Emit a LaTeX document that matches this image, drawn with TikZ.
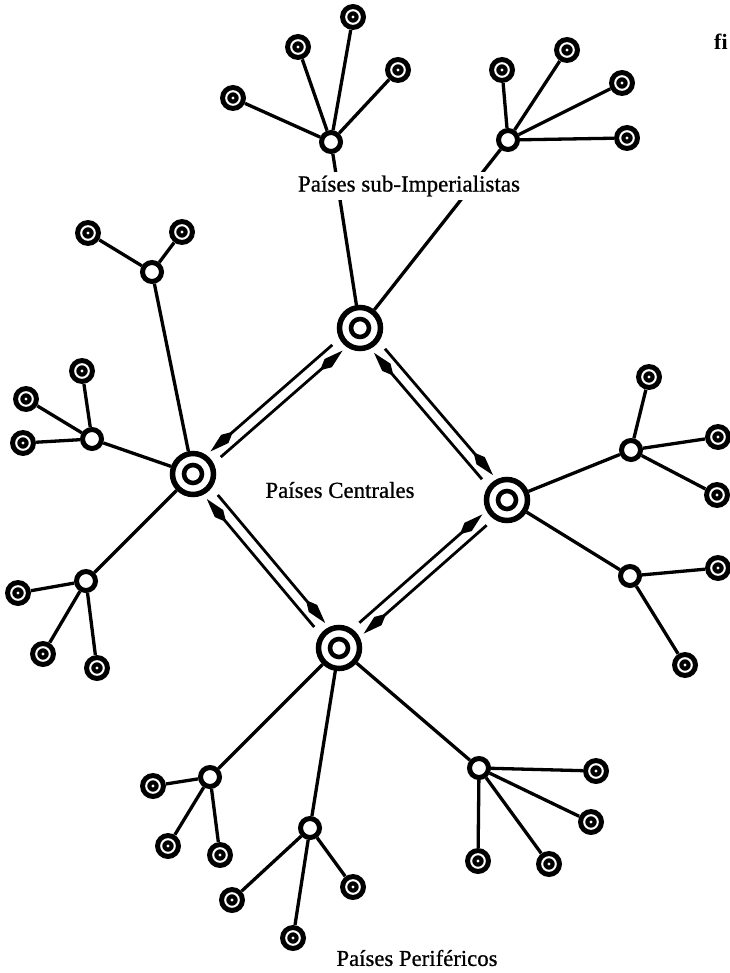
\documentclass[tikz,border=0pt]{standalone}
\usepackage{fontspec}
\setmainfont{Liberation Serif}
\newfontfamily\labfont[FakeBold=0.8]{Liberation Serif}
\usetikzlibrary{calc,arrows.meta}
\begin{document}
\begin{tikzpicture}[x=1pt,y=-1pt,
  hub/.style={circle, draw, line width=5.5pt, minimum size=41pt, inner sep=0pt, fill=white,
    path picture={\draw[line width=4.6pt] (path picture bounding box.center) circle (9pt);}},
  sub/.style={circle, draw, line width=5pt, minimum size=19pt, inner sep=0pt, fill=white,
    path picture={\fill (path picture bounding box.center) circle (4.8pt);
                  \fill[white] (path picture bounding box.center) circle (1.5pt);}},
  leaf/.style={circle, fill=black, minimum size=26pt, inner sep=0pt,
    path picture={\draw[white,line width=2pt] (path picture bounding box.center) circle (6.8pt);
                  \fill[white] (path picture bounding box.center) circle (1.7pt);}},
  ln/.style={line width=3.3pt},
  arr/.style={line width=2.8pt, -{Kite[length=30pt,width=11pt,inset=11pt]}},
  lab/.style={fill=white, inner sep=4pt, font=\labfont}
]
\useasboundingbox (0,0) rectangle (729,973);

% hubs
\node[hub] (T) at (360,328) {};
\node[hub] (L) at (193,474) {};
\node[hub] (R) at (507,500) {};
\node[hub] (B) at (339,648) {};

% sub hubs
\node[sub] (STL) at (331,142) {};
\node[sub] (STR) at (508,140) {};
\node[sub] (SL1) at (152,272) {};
\node[sub] (SL2) at (92,439) {};
\node[sub] (SL3) at (86,581) {};
\node[sub] (SR1) at (631,450) {};
\node[sub] (SR2) at (630,576) {};
\node[sub] (SB1) at (210,777) {};
\node[sub] (SB2) at (310,828) {};
\node[sub] (SB3) at (479,768) {};

% leaves
\node[leaf] (a1) at (233,98) {};
\node[leaf] (a2) at (298,47) {};
\node[leaf] (a3) at (353,17) {};
\node[leaf] (a4) at (398,70) {};
\node[leaf] (b1) at (502,70) {};
\node[leaf] (b2) at (567,50) {};
\node[leaf] (b3) at (622,83) {};
\node[leaf] (b4) at (627,138) {};
\node[leaf] (c1) at (88,233) {};
\node[leaf] (c2) at (182,232) {};
\node[leaf] (d1) at (82,371) {};
\node[leaf] (d2) at (26,399) {};
\node[leaf] (d3) at (23,443) {};
\node[leaf] (e1) at (18,593) {};
\node[leaf] (e2) at (43,654) {};
\node[leaf] (e3) at (97,668) {};
\node[leaf] (f1) at (649,377) {};
\node[leaf] (f2) at (718,437) {};
\node[leaf] (f3) at (717,495) {};
\node[leaf] (g1) at (718,568) {};
\node[leaf] (g2) at (685,665) {};
\node[leaf] (h1) at (153,786) {};
\node[leaf] (h2) at (168,846) {};
\node[leaf] (h3) at (220,855) {};
\node[leaf] (i1) at (232,900) {};
\node[leaf] (i2) at (293,938) {};
\node[leaf] (i3) at (353,887) {};
\node[leaf] (j1) at (596,771) {};
\node[leaf] (j2) at (591,822) {};
\node[leaf] (j3) at (549,864) {};
\node[leaf] (j4) at (478,861) {};

% hub to sub-hub
\draw[ln] (T) -- (STL);
\draw[ln] (T) -- (STR);
\draw[ln] (L) -- (SL1);
\draw[ln] (L) -- (SL2);
\draw[ln] (L) -- (SL3);
\draw[ln] (R) -- (SR1);
\draw[ln] (R) -- (SR2);
\draw[ln] (B) -- (SB1);
\draw[ln] (B) -- (SB2);
\draw[ln] (B) -- (SB3);

% sub-hub to leaves
\foreach \l in {a1,a2,a3,a4} \draw[ln] (STL) -- (\l);
\foreach \l in {b1,b2,b3,b4} \draw[ln] (STR) -- (\l);
\foreach \l in {c1,c2} \draw[ln] (SL1) -- (\l);
\foreach \l in {d1,d2,d3} \draw[ln] (SL2) -- (\l);
\foreach \l in {e1,e2,e3} \draw[ln] (SL3) -- (\l);
\foreach \l in {f1,f2,f3} \draw[ln] (SR1) -- (\l);
\foreach \l in {g1,g2} \draw[ln] (SR2) -- (\l);
\foreach \l in {h1,h2,h3} \draw[ln] (SB1) -- (\l);
\foreach \l in {i1,i2,i3} \draw[ln] (SB2) -- (\l);
\foreach \l in {j1,j2,j3,j4} \draw[ln] (SB3) -- (\l);

% double arrows between hubs
\draw[arr] ($(T)!32pt!(L)!5.5pt!-90:(L)$) -- ($(L)!28pt!(T)!5.5pt!90:(T)$);
\draw[arr] ($(L)!32pt!(T)!5.5pt!-90:(T)$) -- ($(T)!28pt!(L)!5.5pt!90:(L)$);
\draw[arr] ($(T)!32pt!(R)!5.5pt!90:(R)$) -- ($(R)!28pt!(T)!5.5pt!-90:(T)$);
\draw[arr] ($(R)!32pt!(T)!5.5pt!90:(T)$) -- ($(T)!28pt!(R)!5.5pt!-90:(R)$);
\draw[arr] ($(B)!32pt!(L)!5.5pt!90:(L)$) -- ($(L)!28pt!(B)!5.5pt!-90:(B)$);
\draw[arr] ($(L)!32pt!(B)!5.5pt!90:(B)$) -- ($(B)!28pt!(L)!5.5pt!-90:(L)$);
\draw[arr] ($(R)!32pt!(B)!5.5pt!90:(B)$) -- ($(B)!28pt!(R)!5.5pt!-90:(R)$);
\draw[arr] ($(B)!32pt!(R)!5.5pt!90:(R)$) -- ($(R)!28pt!(B)!5.5pt!-90:(B)$);

% labels
\node[lab] (lsub) at (409,186) {\resizebox{222pt}{!}{Países sub-Imperialistas}};
\node[lab, fill=none] (lcen) at (340,490) {\resizebox{149pt}{!}{Países Centrales}};
\node[lab, fill=none] (lper) at (417,958) {\resizebox{161pt}{!}{Países Periféricos}};
\node[anchor=west, inner sep=0pt, font=\bfseries\fontsize{22}{26}\selectfont] (lfi) at (714,42) {fi};
\end{tikzpicture}
\end{document}
